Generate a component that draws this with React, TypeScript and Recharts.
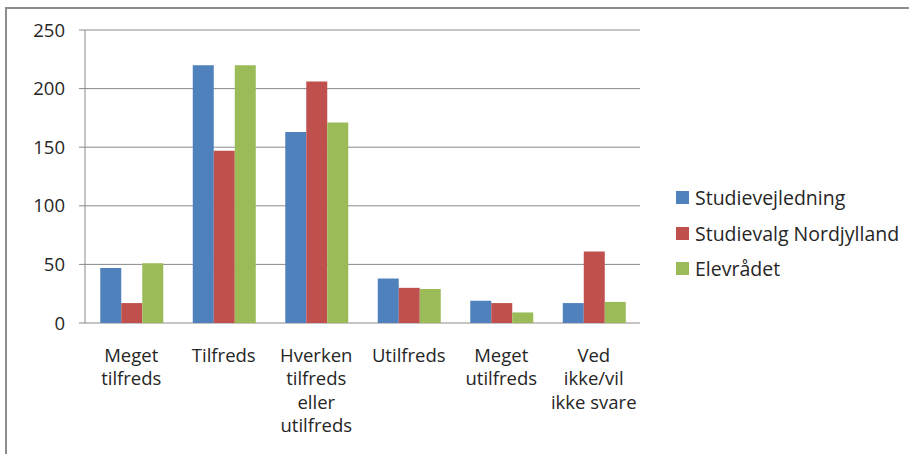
import React from "react";
import { BarChart, Bar, XAxis, YAxis, CartesianGrid } from "recharts";

const categories = [
  "Meget tilfreds",
  "Tilfreds",
  "Hverken tilfreds eller utilfreds",
  "Utilfreds",
  "Meget utilfreds",
  "Ved ikke/vil ikke svare",
];
const tickLines = [
  ["Meget", "tilfreds"],
  ["Tilfreds"],
  ["Hverken", "tilfreds", "eller", "utilfreds"],
  ["Utilfreds"],
  ["Meget", "utilfreds"],
  ["Ved", "ikke/vil", "ikke svare"],
];
const studievejledning = [47, 220, 163, 38, 19, 17];
const studievalgNordjylland = [17, 147, 206, 30, 17, 61];
const elevraadet = [51, 220, 171, 29, 9, 18];
const yTicks = [0, 50, 100, 150, 200, 250];
const edgeTicks = [0, 1, 2, 3, 4, 5, 6];

const seriesNames = ["Studievejledning", "Studievalg Nordjylland", "Elevrådet"];
const seriesKeys = ["s1", "s2", "s3"];
const seriesColors = ["#4F81BD", "#C0504D", "#9BBB59"];

const data = categories.map((c, i) => ({
  name: c,
  s1: studievejledning[i],
  s2: studievalgNordjylland[i],
  s3: elevraadet[i],
}));

const FONT = "'Open Sans', sans-serif";
const TEXT = "#262626";
const GRID = "#8a8a8a";

const CategoryTick = (props: any) => {
  const { x, y, payload } = props;
  const idx = categories.indexOf(payload.value);
  const lines = idx >= 0 ? tickLines[idx] : [String(payload.value)];
  return (
    <text x={x} y={y} textAnchor="middle" fill={TEXT} fontSize={18.5} fontFamily={FONT}>
      {lines.map((l, j) => (
        <tspan key={j} x={x} dy={j === 0 ? 38.5 : 23.5}>
          {l}
        </tspan>
      ))}
    </text>
  );
};

export default function App() {
  return (
    <div style={{ position: "absolute", left: 0, top: 0, width: 909, height: 454, background: "#fff" }}>
      <div
        style={{
          position: "absolute",
          left: 5,
          top: 7,
          width: 904,
          height: 447,
          borderLeft: "2px solid #8c8c8c",
          borderTop: "2px solid #8c8c8c",
          boxSizing: "border-box",
        }}
      />
      <div style={{ position: "absolute", left: 0, top: 0 }}>
        <BarChart
          width={909}
          height={454}
          data={data}
          margin={{ top: 30, right: 269, bottom: 0, left: 0 }}
          barCategoryGap="16.5%"
          barGap={0}
        >
          <CartesianGrid vertical={false} stroke={GRID} strokeWidth={1} />
          <XAxis
            xAxisId="edges"
            type="number"
            domain={[0, 6]}
            ticks={edgeTicks}
            tick={false}
            tickSize={7}
            height={0}
            axisLine={{ stroke: GRID }}
            tickLine={{ stroke: GRID }}
            allowDataOverflow
          />
          <XAxis
            xAxisId="cat"
            dataKey="name"
            type="category"
            height={131}
            axisLine={false}
            tickLine={false}
            tickSize={0}
            tickMargin={0}
            interval={0}
            tick={<CategoryTick />}
          />
          <YAxis
            domain={[0, 250]}
            ticks={yTicks}
            width={85}
            tickSize={6}
            tickMargin={14}
            axisLine={{ stroke: GRID }}
            tickLine={{ stroke: GRID }}
            tick={{ fill: TEXT, fontSize: 18.5, fontFamily: FONT }}
          />
          {seriesKeys.map((k, i) => (
            <Bar
              key={k}
              xAxisId="cat"
              dataKey={k}
              name={seriesNames[i]}
              fill={seriesColors[i]}
              isAnimationActive={false}
            />
          ))}
        </BarChart>
      </div>
      <div style={{ position: "absolute", left: 676, top: 180, fontFamily: FONT, fontSize: 19.5, color: TEXT }}>
        {seriesNames.map((n, i) => (
          <div key={n} style={{ height: 35.5, display: "flex", alignItems: "center", whiteSpace: "nowrap" }}>
            <span style={{ display: "inline-block", width: 13, height: 13, background: seriesColors[i], marginRight: 6 }} />
            <span>{n}</span>
          </div>
        ))}
      </div>
    </div>
  );
}
